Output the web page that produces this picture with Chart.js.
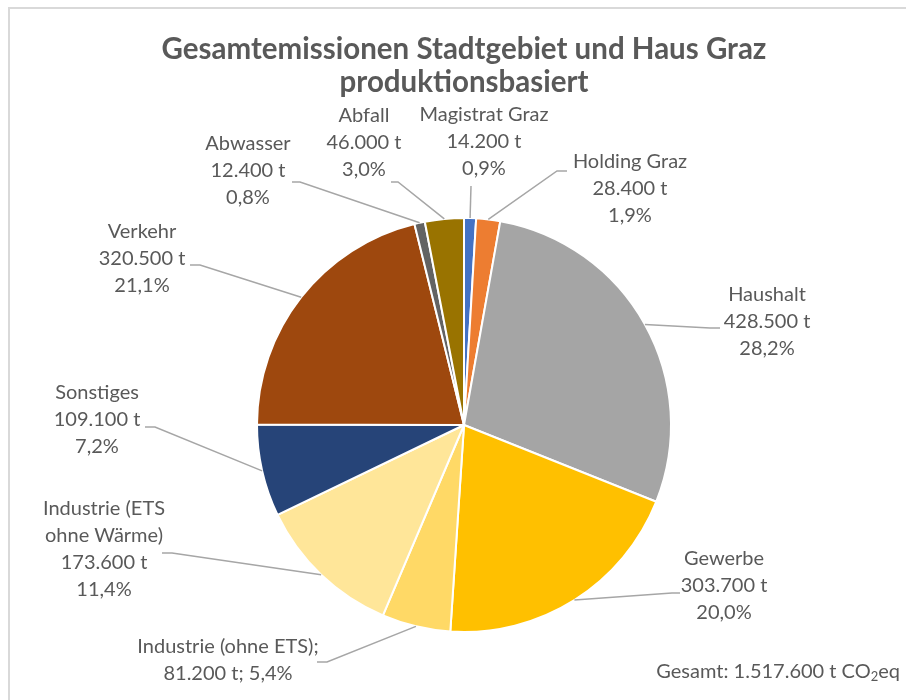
<!DOCTYPE html>
<html>
<head>
<meta charset="utf-8">
<script src="https://cdn.jsdelivr.net/npm/chart.js@4.4.1/dist/chart.umd.min.js"></script>
<style>
  html, body { margin: 0; padding: 0; background: #ffffff; }
  #wrap { position: relative; width: 906px; height: 700px; }
</style>
</head>
<body>
<div id="wrap"><canvas id="c" width="906" height="700"></canvas></div>
<script>
// ---- data ----
const categories = ['Magistrat Graz', 'Holding Graz', 'Haushalt', 'Gewerbe', 'Industrie (ohne ETS)',
  'Industrie (ETS ohne Wärme)', 'Sonstiges', 'Verkehr', 'Abwasser', 'Abfall'];
const emissions = [14200, 28400, 428500, 303700, 81200, 173600, 109100, 320500, 12400, 46000];
const nameLines = [['Magistrat Graz'], ['Holding Graz'], ['Haushalt'], ['Gewerbe'], ['Industrie (ohne ETS);'],
  ['Industrie (ETS', 'ohne Wärme)'], ['Sonstiges'], ['Verkehr'], ['Abwasser'], ['Abfall']];
const titleLines = ['Gesamtemissionen Stadtgebiet und Haus Graz', 'produktionsbasiert'];
const totalLabelPrefix = 'Gesamt: ';
const totalUnit = ['t CO', '2', 'eq'];

// ---- styles / layout ----
const colors = ['#4472C4', '#ED7D31', '#A5A5A5', '#FFC000', '#FFD966', '#FFE699', '#264478', '#9E480E', '#636363', '#997300'];
const TEXT = '#595959';
const FONT = 'Lato, "Open Sans", sans-serif';
const LABEL_SIZE = 20;
const LINE_H = 26.8;
// label block: center x, first line center y, attach point (label side), stub end
const labelLayout = [
  { cx: 484, y: 115, attach: [471, 186], stub: [471, 186] },
  { cx: 630, y: 162, attach: [567, 171], stub: [557, 171] },
  { cx: 767, y: 295, attach: [720, 328], stub: [710, 328] },
  { cx: 724, y: 559, attach: [680, 593], stub: [672, 593] },
  { cx: 228, y: 647, attach: [317, 662], stub: [327, 662], inline: true },
  { cx: 104, y: 509, attach: [162, 553], stub: [172, 553] },
  { cx: 97,  y: 393, attach: [145, 427], stub: [155, 427] },
  { cx: 142, y: 232, attach: [190, 265], stub: [200, 265] },
  { cx: 248, y: 144, attach: [292, 182], stub: [300, 182] },
  { cx: 364, y: 116, attach: [391, 182], stub: [398, 182] }
];

function fmtThousands(v) {
  return String(v).replace(/\B(?=(\d{3})+(?!\d))/g, '.');
}
const total = emissions.reduce((a, b) => a + b, 0);
function pctText(v) {
  return (v / total * 100).toFixed(1).replace('.', ',') + '%';
}

const labelPlugin = {
  id: 'labels',
  beforeDraw(chart) {
    const ctx = chart.ctx;
    ctx.save();
    ctx.strokeStyle = '#d9d9d9';
    ctx.lineWidth = 2;
    ctx.beginPath();
    ctx.moveTo(9, 700);
    ctx.lineTo(9, 8);
    ctx.lineTo(906, 8);
    ctx.stroke();
    ctx.restore();
  },
  afterDatasetsDraw(chart) {
    const ctx = chart.ctx;
    const meta = chart.getDatasetMeta(0);
    ctx.save();
    // leader lines
    ctx.strokeStyle = '#a6a6a6';
    ctx.lineWidth = 1.5;
    meta.data.forEach((arc, i) => {
      const p = arc.getProps(['x', 'y', 'startAngle', 'endAngle', 'outerRadius'], true);
      const mid = (p.startAngle + p.endAngle) / 2;
      const ax = p.x + Math.cos(mid) * p.outerRadius;
      const ay = p.y + Math.sin(mid) * p.outerRadius;
      const L = labelLayout[i];
      ctx.beginPath();
      ctx.moveTo(L.attach[0], L.attach[1]);
      ctx.lineTo(L.stub[0], L.stub[1]);
      ctx.lineTo(ax, ay);
      ctx.stroke();
    });
    // label text
    ctx.fillStyle = TEXT;
    ctx.font = LABEL_SIZE + 'px ' + FONT;
    ctx.textAlign = 'center';
    ctx.textBaseline = 'middle';
    emissions.forEach((v, i) => {
      const L = labelLayout[i];
      let lines;
      if (L.inline) {
        lines = [...nameLines[i], fmtThousands(v) + ' t; ' + pctText(v)];
      } else {
        lines = [...nameLines[i], fmtThousands(v) + ' t', pctText(v)];
      }
      lines.forEach((t, k) => ctx.fillText(t, L.cx, L.y + k * LINE_H));
    });
    // total
    const y = 672;
    const main = totalLabelPrefix + fmtThousands(total) + ' ' + totalUnit[0];
    ctx.textAlign = 'left';
    const subFont = '13px ' + FONT;
    const w1 = ctx.measureText(main).width;
    const w3 = ctx.measureText(totalUnit[2]).width;
    ctx.font = subFont;
    const w2 = ctx.measureText(totalUnit[1]).width;
    const x0 = 900 - (w1 + w2 + w3);
    ctx.font = LABEL_SIZE + 'px ' + FONT;
    ctx.fillText(main, x0, y);
    ctx.fillText(totalUnit[2], x0 + w1 + w2, y);
    ctx.font = subFont;
    ctx.fillText(totalUnit[1], x0 + w1, y + 5);
    ctx.restore();
  }
};

new Chart(document.getElementById('c'), {
  type: 'pie',
  data: {
    labels: categories,
    datasets: [{
      data: emissions,
      backgroundColor: colors,
      borderColor: '#ffffff',
      borderWidth: 2
    }]
  },
  options: {
    responsive: false,
    animation: false,
    layout: { padding: { left: 22, right: 0, top: 0, bottom: 67 } },
    plugins: {
      legend: { display: false },
      tooltip: { enabled: false },
      title: {
        display: true,
        text: titleLines,
        color: TEXT,
        font: { family: FONT, size: 29.5, weight: 'bold', lineHeight: 1.12 },
        padding: { top: 32.5, bottom: 118.4 }
      }
    }
  },
  plugins: [labelPlugin]
});
</script>
</body>
</html>
